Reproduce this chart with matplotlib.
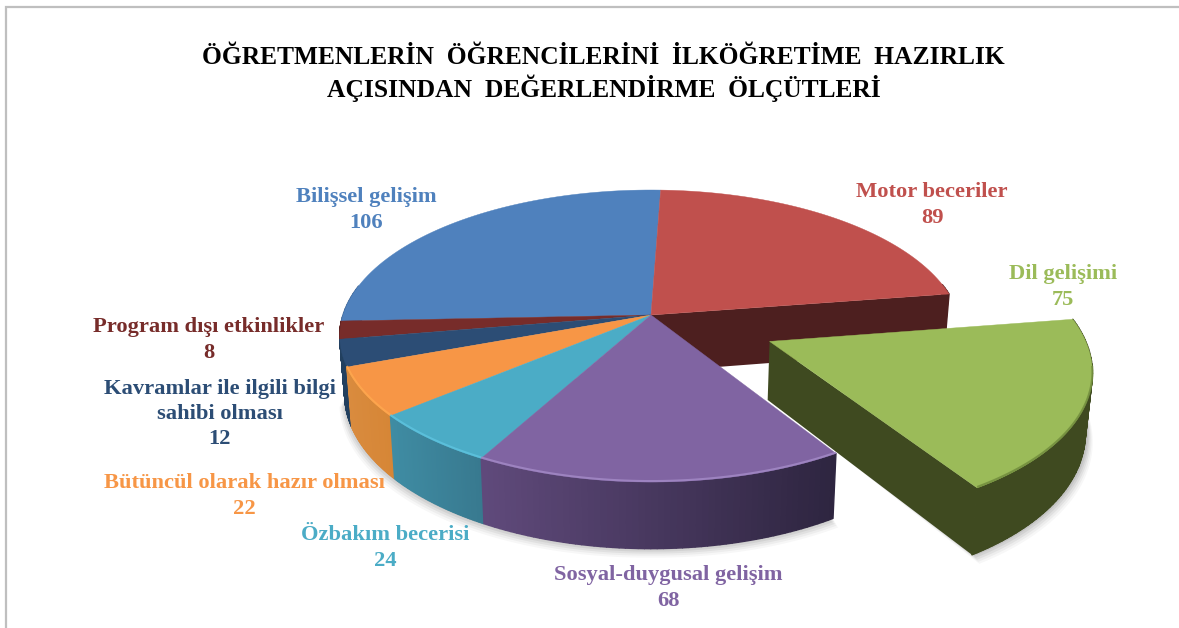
import numpy as np
import matplotlib
matplotlib.use('Agg')
import matplotlib.pyplot as plt
from matplotlib.collections import PolyCollection
from matplotlib.colors import to_rgb

plt.rcParams['font.family'] = ['Liberation Serif', 'DejaVu Serif']

title_lines = ['ÖĞRETMENLERİN  ÖĞRENCİLERİNİ  İLKÖĞRETİME  HAZIRLIK',
               'AÇISINDAN  DEĞERLENDİRME  ÖLÇÜTLERİ']
categories = ['Bilişsel gelişim', 'Motor beceriler', 'Dil gelişimi',
              'Sosyal-duygusal gelişim', 'Özbakım becerisi',
              'Bütüncül olarak hazır olması',
              'Kavramlar ile ilgili bilgi\nsahibi olması',
              'Program dışı etkinlikler']
values = [106, 89, 75, 68, 24, 22, 12, 8]

colors = ['#4f81bd', '#c0504d', '#9bbb59', '#8064a2', '#4bacc6', '#f79646', '#2c4d75', '#772c2a']
# wall colours, left and right end of the gradient
wall_left = ['#3a5f8c', '#4d1f1f', '#3f4a20', '#604a7c', '#3f8ca3', '#d98b3e', '#22405f', '#5a2120']
wall_right = ['#3a5f8c', '#4d1f1f', '#3f4a20', '#2e2540', '#38798f', '#d68636', '#22405f', '#5a2120']
rim_light = [None, None, '#6f8a3c', '#a58cc8', '#5fc4e0', '#ffa94f', None, None]
label_pos = [(366, 210), (932, 205), (1063, 287), (668, 588), (385, 548),
             (244, 496), (220, 414), (209, 340)]

cx, cy = 651, 315
rx, ry = 308, 143
persp = 0.144
wall_h = 57
start = 267.6     # degrees clockwise from the back of the pie
explode = {2: (0.375, 0.18)}


def project(u, v):
    s = 1 / (1 - persp * v)
    return cx + rx * u * s, cy + ry * v * s, s


def lower(x, y, s):
    return cx + (x - cx) * 0.984, y + wall_h * s


fig = plt.figure(figsize=(11.79, 6.28), dpi=100)
ax = fig.add_axes([0, 0, 1, 1])
ax.set_xlim(0, 1179)
ax.set_ylim(628, 0)
ax.axis('off')

# frame
ax.plot([6, 6, 1179], [628, 7, 7], color='#bfbfbf', lw=1.6, solid_joinstyle='miter')

for line, y in zip(title_lines, [58, 88]):
    ax.text(603.5, y, line, ha='center', va='center', fontsize=18.35, fontweight='bold', color='black')

edges = start + np.cumsum([0] + values) / sum(values) * 360
slices = []
for i in range(len(values)):
    th = np.radians(np.linspace(edges[i], edges[i + 1], 60))
    ou, ov = explode.get(i, (0, 0))
    slices.append((th, ou, ov))


def wall_strip(i, th, ou, ov):
    x, y, s = project(ou + np.sin(th), ov - np.cos(th))
    xb, yb = lower(x, y, s)
    return x, y, xb, yb


# soft shadow under the front of the pie
for grow, alpha in zip([9, 7, 5, 3, 1], [0.03, 0.04, 0.05, 0.06, 0.07]):
    for i, (th, ou, ov) in enumerate(slices):
        x, y, xb, yb = wall_strip(i, th, ou, ov)
        x0, y0, s0 = project(ou, ov)
        x0b, y0b = lower(x0, y0, s0)
        px = np.r_[x0b, xb + np.sign(xb - x0b) * grow * 0.6]
        py = np.r_[y0b, yb + grow]
        if i == 2:
            ax.fill(px + 2, py, color='black', alpha=alpha, lw=0, zorder=1)
        elif i in (3, 4, 5, 6):
            ax.fill(px, py, color='black', alpha=alpha, lw=0, zorder=1)

order = [0, 7, 1, 6, 5, 4, 3]


def draw_pie_slice(i):
    th, ou, ov = slices[i]
    x, y, xb, yb = wall_strip(i, th, ou, ov)
    x0, y0, s0 = project(ou, ov)
    x0b, y0b = lower(x0, y0, s0)
    # outer wall, only where it faces the viewer
    vis = np.cos(th) < 0.2
    quads, cols = [], []
    cl, cr = np.array(to_rgb(wall_left[i])), np.array(to_rgb(wall_right[i]))
    xmin, xmax = x.min(), x.max()
    for k in range(len(th) - 1):
        if vis[k] or vis[k + 1]:
            quads.append([(x[k], y[k]), (x[k + 1], y[k + 1]), (xb[k + 1], yb[k + 1]), (xb[k], yb[k])])
            t = (x[k] - xmin) / max(xmax - xmin, 1)
            cols.append(cl + (cr - cl) * t)
    if quads:
        ax.add_collection(PolyCollection(quads, facecolors=cols, edgecolors=cols, lw=1, zorder=3))
    # cut face looking at the viewer
    if i == 1:
        ax.fill([x0, x[-1], xb[-1], x0b], [y0, y[-1], yb[-1], y0b], color=wall_left[i], lw=0, zorder=2.5)
    if i == 2:
        ax.fill([x0, x[-1], xb[-1], x0b], [y0, y[-1], yb[-1], y0b], color=wall_left[i], lw=0, zorder=6)
    # top
    ax.fill(np.r_[x0, x], np.r_[y0, y], color=colors[i], lw=0.3, zorder=4 if i != 2 else 7)
    if rim_light[i]:
        # the bevel fades out towards the back of the dil slice
        keep = th > np.radians(edges[i] + 18) if i == 2 else np.ones(len(th), bool)
        ax.plot(x[keep], y[keep] - 1, color=rim_light[i], lw=1.5, alpha=0.8,
                zorder=4.5 if i != 2 else 7.5, solid_capstyle='butt')


for i in order:
    draw_pie_slice(i)

# the exploded slice sits in front of everything else
th, ou, ov = slices[2]
x, y, xb, yb = wall_strip(2, th, ou, ov)
quads = [[(x[k], y[k]), (x[k + 1], y[k + 1]), (xb[k + 1], yb[k + 1]), (xb[k], yb[k])] for k in range(len(th) - 1)]
ax.add_collection(PolyCollection(quads, facecolors=wall_left[2], edgecolors=wall_left[2], lw=0.5, zorder=5))
draw_pie_slice(2)

for cat, val, col, (lx, ly) in zip(categories, values, colors, label_pos):
    ax.text(lx, ly, f'{cat}\n{val}', ha='center', va='center', fontsize=16.2, fontweight='bold',
            color=col, linespacing=1.36, zorder=10)

plt.savefig('out.png', dpi=100)
